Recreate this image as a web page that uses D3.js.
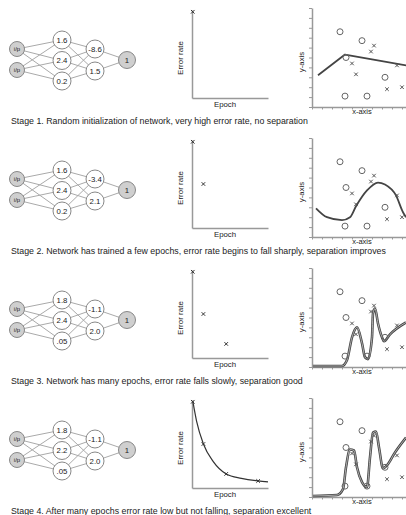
<!DOCTYPE html>
<html><head><meta charset="utf-8">
<script src="https://cdn.jsdelivr.net/npm/d3@7"></script>
<style>body{margin:0;background:#fff}svg{display:block;font-family:"Liberation Sans",Arial,sans-serif}</style>
</head><body><svg id="c" width="406" height="515"></svg>
<script>
// ---- data ----
const stageNames = ["Stage 1", "Stage 2", "Stage 3", "Stage 4"];
const captions = [
  "Stage 1. Random initialization of network, very high error rate, no separation",
  "Stage 2. Network has trained a few epochs, error rate begins to fall sharply, separation improves",
  "Stage 3. Network has many epochs, error rate falls slowly, separation good",
  "Stage 4. After many epochs error rate low but not falling, separation excellent"
];
const inputLabels = ["i/p", "i/p"];
const hiddenA = [["1.6", "2.4", "0.2"], ["1.6", "2.4", "0.2"], ["1.8", "2.4", ".05"], ["1.8", "2.2", ".05"]];
const hiddenB = [["-8.6", "1.5"], ["-3.4", "2.1"], ["-1.1", "2.0"], ["-1.1", "2.0"]];
const outputLabels = ["1"];
const errEpoch = [0.1, 1.5, 4.5, 8.7];
const errRate = [0.98, 0.5, 0.16, 0.08];
const errShown = [1, 2, 3, 4];
const decayEpoch = [0.1, 0.6, 1.5, 2.8, 4.5, 6.5, 8.7, 10];
const decayRate = [0.99, 0.76, 0.5, 0.3, 0.16, 0.11, 0.08, 0.07];
const oX = [2.8, 5.0, 3.4, 3.3, 5.5, 7.3];
const oY = [7.6, 6.7, 5.0, 1.1, 1.1, 3.0];
const xX = [6.2, 5.9, 4.0, 4.4, 7.5, 9.0, 8.5];
const xY = [6.2, 5.6, 4.4, 3.3, 1.8, 2.0, 4.2];
const boundary1X = [0.6, 3.3, 6.0, 9.4];
const boundary1Y = [3.2, 5.3, 4.8, 4.2];
const boundary2X = [0.4, 1.5, 3.0, 3.8, 4.4, 5.5, 6.6, 7.3, 8.4, 9.1, 9.4];
const boundary2Y = [2.9, 2.0, 1.7, 2.0, 3.1, 4.7, 5.5, 5.3, 4.2, 2.5, 2.0];
const boundary3X = [0.1, 3.0, 3.5, 4.0, 4.5, 5.0, 5.3, 5.6, 6.0, 6.1, 6.3, 6.6, 7.0, 7.2, 7.8, 9.4];
const boundary3Y = [0.1, 0.1, 0.7, 3.0, 4.0, 2.4, 1.0, 0.8, 3.0, 5.4, 5.9, 4.4, 3.0, 2.6, 3.3, 4.5];
const boundary4X = [0.1, 2.5, 3.1, 3.4, 3.8, 4.2, 4.5, 5.0, 5.5, 5.8, 6.1, 6.4, 6.7, 7.1, 7.5, 8.3, 9.4];
const boundary4Y = [0.1, 0.2, 0.8, 3.0, 4.8, 4.7, 3.0, 1.5, 1.0, 4.0, 6.5, 6.6, 5.0, 2.9, 3.2, 4.5, 6.0];
const boundariesX = [boundary1X, boundary2X, boundary3X, boundary4X];
const boundariesY = [boundary1Y, boundary2Y, boundary3Y, boundary4Y];

// ---- drawing ----
const svg = d3.select("#c");
const rowH = 130;
const ink = "#222", grid = "#999";

const layerX = d3.scaleOrdinal().domain(["in", "h1", "h2", "out"]).range([17, 62, 95, 127]);
const yIn = d3.scalePoint().domain([0, 1]).range([49, 70]);
const yH1 = d3.scalePoint().domain([0, 1, 2]).range([40, 81]);
const yH2 = d3.scalePoint().domain([0, 1]).range([49, 71]);
const yOut = d3.scalePoint().domain([0]).range([60, 60]).padding(0.5);

const errX = d3.scaleLinear().domain([0, 10]).range([192, 268]);
const errY = d3.scaleLinear().domain([0, 1]).range([98, 10]);
const scX = d3.scaleLinear().domain([0, 9.4]).range([312, 406]);
const scY = d3.scaleLinear().domain([0, 10]).range([107, 8]);

stageNames.forEach((name, s) => {
  const g = svg.append("g").attr("transform", `translate(0,${s * rowH})`);

  // network
  const net = g.append("g");
  const nIn = inputLabels.map((l, i) => ({x: layerX("in"), y: yIn(i), r: 7.5, label: l, fill: "#cfcfcf", fs: 6}));
  const nH1 = hiddenA[s].map((l, i) => ({x: layerX("h1"), y: yH1(i), r: 9, label: l, fill: "#fff", fs: 7.8}));
  const nH2 = hiddenB[s].map((l, i) => ({x: layerX("h2"), y: yH2(i), r: 9, label: l, fill: "#fff", fs: 7.8}));
  const nOut = outputLabels.map((l, i) => ({x: layerX("out"), y: yOut(i), r: 8.5, label: l, fill: "#cfcfcf", fs: 7.8}));
  const links = [];
  [[nIn, nH1], [nH1, nH2], [nH2, nOut]].forEach(([a, b]) => a.forEach(p => b.forEach(q => links.push([p, q]))));
  net.selectAll("line").data(links).join("line")
    .attr("x1", d => d[0].x).attr("y1", d => d[0].y).attr("x2", d => d[1].x).attr("y2", d => d[1].y)
    .attr("stroke", "#aaa").attr("stroke-width", 1);
  const nodes = nIn.concat(nH1, nH2, nOut);
  net.selectAll("circle").data(nodes).join("circle")
    .attr("cx", d => d.x).attr("cy", d => d.y).attr("r", d => d.r)
    .attr("fill", d => d.fill).attr("stroke", "#888").attr("stroke-width", 1);
  net.selectAll("text").data(nodes).join("text")
    .attr("x", d => d.x).attr("y", d => d.y).attr("dy", "0.35em").attr("text-anchor", "middle")
    .attr("font-size", d => d.fs).attr("fill", ink).text(d => d.label);

  // error chart
  const eg = g.append("g");
  eg.append("g").attr("transform", `translate(${errX(0)},0)`)
    .call(d3.axisLeft(errY).ticks(0).tickSizeOuter(0))
    .call(a => a.select(".domain").attr("stroke", grid).attr("stroke-width", 1.5));
  eg.append("g").attr("transform", `translate(0,${errY(0)})`)
    .call(d3.axisBottom(errX).ticks(0).tickSizeOuter(0))
    .call(a => a.select(".domain").attr("stroke", grid).attr("stroke-width", 1.5));
  eg.append("text").attr("x", 225).attr("y", 106.5).attr("text-anchor", "middle")
    .attr("font-size", 7.8).attr("fill", ink).text("Epoch");
  eg.append("text").attr("transform", "translate(183,58) rotate(-90)").attr("text-anchor", "middle")
    .attr("font-size", 8).attr("fill", ink).text("Error rate");
  if (s === 3) {
    const dec = decayEpoch.map((e, i) => [e, decayRate[i]]);
    eg.append("path").attr("d", d3.line().x(d => errX(d[0])).y(d => errY(d[1])).curve(d3.curveMonotoneX)(dec))
      .attr("fill", "none").attr("stroke", "#333").attr("stroke-width", 1.2);
  }
  const ep = errEpoch.slice(0, errShown[s]).map((e, i) => [e, errRate[i]]);
  eg.selectAll("path.m").data(ep).join("path").attr("class", "m")
    .attr("transform", d => `translate(${errX(d[0])},${errY(d[1])})`)
    .attr("d", d3.symbol(d3.symbolX, 10)).attr("fill", "none").attr("stroke", "#333").attr("stroke-width", 1);

  // scatter chart
  const sg = g.append("g");
  sg.append("g").attr("transform", `translate(${scX(0)},0)`)
    .call(d3.axisLeft(scY).ticks(10).tickSize(3).tickSizeOuter(0).tickFormat(""))
    .call(a => { a.select(".domain").attr("stroke", grid).attr("stroke-width", 1.5); a.selectAll(".tick line").attr("stroke", grid); });
  sg.append("g").attr("transform", `translate(0,${scY(0)})`)
    .call(d3.axisBottom(scX).ticks(9).tickSize(2.5).tickSizeOuter(0).tickFormat(""))
    .call(a => { a.select(".domain").attr("stroke", grid).attr("stroke-width", 1.5); a.selectAll(".tick line").attr("stroke", grid); });
  sg.append("text").attr("x", 362).attr("y", 113.8).attr("text-anchor", "middle")
    .attr("font-size", 7.5).attr("fill", ink).text("x-axis");
  sg.append("text").attr("transform", "translate(304,62) rotate(-90)").attr("text-anchor", "middle")
    .attr("font-size", 7.8).attr("fill", ink).text("y-axis");

  const bd = boundariesX[s].map((x, i) => [x, boundariesY[s][i]]);
  const lineGen = d3.line().x(d => scX(d[0])).y(d => scY(d[1])).curve(s === 0 ? d3.curveLinear : d3.curveMonotoneX);
  sg.append("path").attr("d", lineGen(bd)).attr("fill", "none").attr("stroke", "#444")
    .attr("stroke-width", s >= 2 ? 2.6 : 1.8).attr("stroke-linejoin", "round");
  if (s >= 2) {
    sg.append("path").attr("d", lineGen(bd)).attr("fill", "none").attr("stroke", "#ddd").attr("stroke-width", 0.7);
  }
  sg.selectAll("circle.o").data(oX.map((x, i) => [x, oY[i]])).join("circle").attr("class", "o")
    .attr("cx", d => scX(d[0])).attr("cy", d => scY(d[1])).attr("r", 3)
    .attr("fill", "none").attr("stroke", "#666").attr("stroke-width", 1);
  sg.selectAll("path.x").data(xX.map((x, i) => [x, xY[i]])).join("path").attr("class", "x")
    .attr("transform", d => `translate(${scX(d[0])},${scY(d[1])})`)
    .attr("d", d3.symbol(d3.symbolX, 10)).attr("fill", "none").attr("stroke", "#555").attr("stroke-width", 1);

  // caption
  g.append("text").attr("x", 11).attr("y", 123.6).attr("font-size", 8.8).attr("fill", ink).text(captions[s]);
});
</script></body></html>
